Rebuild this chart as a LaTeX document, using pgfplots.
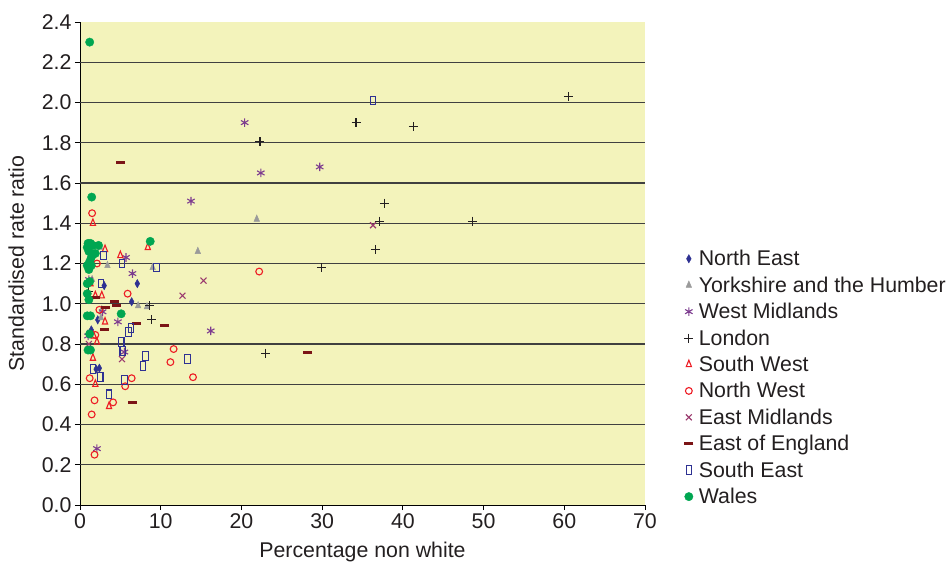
\documentclass[border=0pt]{standalone}
\usepackage{pgfplots}
\pgfplotsset{compat=1.18}
\usepackage{fontspec}
\setmainfont{Liberation Sans}
\definecolor{bg}{HTML}{F3F3BB}
\definecolor{ne}{HTML}{2E3192}
\definecolor{yh}{HTML}{9A9A9A}
\definecolor{wm}{HTML}{7D3C8F}
\definecolor{ld}{HTML}{231F20}
\definecolor{sw}{HTML}{ED1C24}
\definecolor{em}{HTML}{9B3A6E}
\definecolor{eoe}{HTML}{7B1416}
\definecolor{wal}{HTML}{00A651}
\definecolor{txt}{HTML}{231F20}
\begin{document}
\begin{tikzpicture}
\begin{axis}[
  name=ax,
  scale only axis,
  width=565bp, height=483bp,
  xmin=0, xmax=70, ymin=0, ymax=2.4,
  xtick={0,10,...,70},
  ytick={0,0.2,...,2.41},
  extra y ticks={0.2,0.4,...,2.21},
  extra y tick labels={},
  extra y tick style={grid=major, major tick length=0pt},
  major grid style={line width=1.2bp, black!75},
  axis x line*=bottom, axis y line*=left,
  axis line style={line width=0.9bp, black},
  tick align=outside,
  major tick length=5bp,
  tick style={line width=0.9bp, black},
  axis background/.style={fill=bg},
  font=\fontsize{21.4}{25}\selectfont,
  every tick label/.append style={text=txt},
  /pgf/number format/assume math mode=true,
  yticklabel style={/pgf/number format/fixed, /pgf/number format/fixed zerofill, /pgf/number format/precision=1},
  xticklabel style={/pgf/number format/fixed},
  xlabel={Percentage non white},
  ylabel={Standardised rate ratio},
  label style={text=txt},
  xlabel style={yshift=-7bp},
  ylabel style={yshift=6bp},
  legend style={at={(axis description cs:1.064,0.536)}, anchor=north west, draw=none, fill=none,
    font=\fontsize{21.4}{25}\selectfont, text=txt, row sep=5.5bp},
  legend image code/.code={\draw[mark repeat=2,mark phase=2] plot coordinates {(0cm,0cm)(0.3cm,0cm)(0.6cm,0cm)};
    \path[draw=none,fill=none] (0.3cm,0cm) ++(8bp,0cm);},
  legend cell align=left,
  clip=false,
]
% North East
\addplot[only marks, mark=diamond*, mark size=4.2bp, mark options={xscale=0.75, fill=ne, draw=ne}, color=ne]
coordinates {(3.0,1.09)(7.1,1.10)(6.4,1.01)(2.2,0.92)(1.4,0.87)(1.0,0.85)(2.4,0.68)(2.0,0.675)};
\addlegendentry{North East}
% Yorkshire and the Humber
\addplot[only marks, mark=triangle*, mark size=4.3bp, mark options={xscale=0.75, fill=yh, draw=yh}, color=yh]
coordinates {(21.9,1.42)(14.6,1.26)(9.0,1.18)(3.4,1.19)(7.2,0.99)(8.3,0.985)(2.7,0.97)(2.5,1.28)(2.6,0.93)(1.5,1.12)};
\addlegendentry{Yorkshire and the Humber}
% West Midlands
\addplot[only marks, mark=asterisk, mark size=4.3bp, mark options={line width=1.1bp, draw=wm}, color=wm]
coordinates {(20.4,1.90)(22.4,1.65)(29.7,1.68)(13.75,1.51)(16.2,0.865)(6.5,1.15)(5.7,1.23)(2.8,0.96)(4.7,0.91)(5.5,0.76)(2.1,0.28)(1.1,1.12)(1.0,0.84)};
\addlegendentry{West Midlands}
% London
\addplot[only marks, mark=+, mark size=4.5bp, mark options={line width=1.1bp, draw=ld}, color=ld]
coordinates {(60.5,2.03)(34.2,1.90)(41.3,1.88)(22.3,1.805)(37.7,1.50)(37.1,1.41)(48.6,1.41)(36.6,1.27)(29.9,1.18)(23.0,0.755)(8.6,0.99)(8.9,0.92)(1.0,1.06)};
\addlegendentry{London}
% South West
\addplot[only marks, mark=triangle, mark size=4.3bp, mark options={xscale=0.7, line width=1.1bp, draw=sw}, color=sw]
coordinates {(1.6,1.40)(8.4,1.28)(3.1,1.27)(5.0,1.24)(1.9,1.04)(2.7,1.04)(3.1,0.91)(2.1,0.81)(1.6,0.73)(1.9,0.60)(3.6,0.49)(1.7,0.84)(1.3,1.10)};
\addlegendentry{South West}
% North West
\addplot[only marks, mark=o, mark size=3.4bp, mark options={line width=1.1bp, draw=sw}, color=sw]
coordinates {(1.5,1.45)(5.9,1.05)(22.2,1.16)(11.6,0.775)(11.2,0.71)(14.0,0.635)(6.4,0.63)(5.6,0.59)(4.1,0.51)(1.8,0.52)(1.45,0.45)(1.2,0.63)(2.1,1.20)(2.4,0.97)(1.9,0.845)(1.8,0.25)};
\addlegendentry{North West}
% East Midlands
\addplot[only marks, mark=x, mark size=4.2bp, mark options={line width=1.1bp, draw=em}, color=em]
coordinates {(15.3,1.115)(12.7,1.04)(36.3,1.39)(5.2,0.725)(1.1,0.80)};
\addlegendentry{East Midlands}
% East of England
\addplot[only marks, mark=-, mark size=4.5bp, mark options={line width=3bp, draw=eoe}, color=eoe]
coordinates {(5.0,1.70)(4.3,1.01)(4.5,0.99)(3.1,0.98)(7.0,0.90)(3.0,0.87)(10.5,0.89)(6.5,0.51)(28.2,0.757)(1.9,1.03)};
\addlegendentry{East of England}
% South East
\addplot[only marks, mark=square, mark size=4.3bp, mark options={xscale=0.65, line width=1.1bp, draw=ne}, color=ne]
coordinates {(36.3,2.01)(2.9,1.24)(5.2,1.20)(9.5,1.18)(2.6,1.10)(6.0,0.86)(6.3,0.88)(5.1,0.81)(5.3,0.765)(8.1,0.74)(7.8,0.69)(13.3,0.725)(1.6,0.675)(2.5,0.635)(5.5,0.62)(3.6,0.55)};
\addlegendentry{South East}
% Wales
\addplot[only marks, mark=*, mark size=4.2bp, mark options={fill=wal, draw=wal}, color=wal]
coordinates {(1.2,2.30)(1.45,1.53)(8.7,1.31)(5.1,0.95)(1.0,1.30)(1.3,1.30)(0.9,1.28)(1.6,1.29)(2.3,1.29)(1.1,1.26)(1.9,1.25)(1.4,1.23)(0.9,1.19)(1.4,1.19)(1.1,1.17)(1.2,1.21)(0.9,1.10)(1.2,1.11)(0.9,1.05)(1.1,1.02)(0.9,0.94)(1.3,0.94)(1.2,0.85)(1.0,0.77)(1.3,0.77)};
\addlegendentry{Wales}
\end{axis}
\pgfresetboundingbox
\path ([xshift=-80bp,yshift=-57bp]ax.south west) rectangle ([xshift=306bp,yshift=22bp]ax.north east);
\end{tikzpicture}
\end{document}
